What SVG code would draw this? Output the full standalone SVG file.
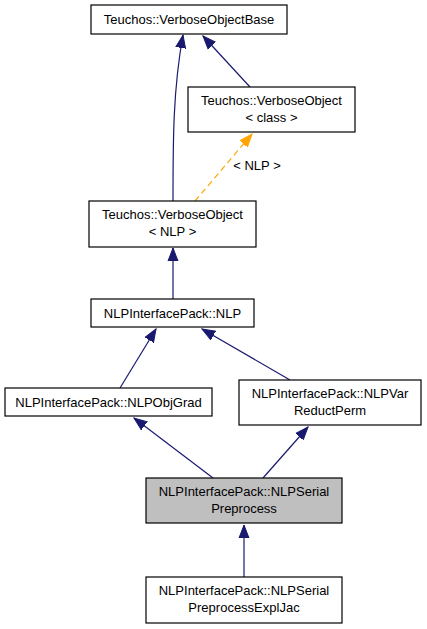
<svg xmlns="http://www.w3.org/2000/svg" width="427" height="629" viewBox="0 0 427 629">
<style>
.n rect{fill:#fff;stroke:#000;stroke-width:1.2}
.n rect.hl{fill:#bfbfbf}
text{font-family:"Liberation Sans",Arial,sans-serif;font-size:13px;text-anchor:middle;fill:#000}
.e{fill:none;stroke:#191970;stroke-width:1.2}
.d{fill:none;stroke:#ffa500;stroke-width:1.2;stroke-dasharray:6,4}
</style>
<defs>
<marker id="a" markerWidth="14" markerHeight="12" refX="13" refY="6" orient="auto" markerUnits="userSpaceOnUse"><path d="M0,1 L13,6 L0,11 Z" fill="#191970" stroke="#191970"/></marker>
<marker id="o" markerWidth="14" markerHeight="12" refX="13" refY="6" orient="auto" markerUnits="userSpaceOnUse"><path d="M0,1 L13,6 L0,11 Z" fill="#ffa500" stroke="#ffa500"/></marker>
</defs>
<rect width="427" height="629" fill="#fff"/>
<g id="connectors">
<path class="e" d="M173,201 C173,140 173,90 183,35" marker-end="url(#a)"/>
<path class="e" d="M250,87 L203,36" marker-end="url(#a)"/>
<path class="d" d="M195,201 L252,134" marker-end="url(#o)"/>
<text x="257" y="170">&lt; NLP &gt;</text>
<path class="e" d="M173,299 L173,248" marker-end="url(#a)"/>
<path class="e" d="M120,388 L156,329" marker-end="url(#a)"/>
<path class="e" d="M290,380 L202,329" marker-end="url(#a)"/>
<path class="e" d="M213,478 L134,418" marker-end="url(#a)"/>
<path class="e" d="M263,478 L308,427" marker-end="url(#a)"/>
<path class="e" d="M244,577 L244,525" marker-end="url(#a)"/>
</g>
<g id="node-verboseobjectbase" class="n"><rect x="91" y="5" width="196" height="29"/><text x="189" y="24">Teuchos::VerboseObjectBase</text></g>
<g id="node-verboseobject-class" class="n"><rect x="188" y="87" width="167" height="45"/><text x="271.5" y="105">Teuchos::VerboseObject</text><text x="271.5" y="122">&lt; class &gt;</text></g>
<g id="node-verboseobject-nlp" class="n"><rect x="89" y="201" width="167" height="46"/><text x="172.5" y="219">Teuchos::VerboseObject</text><text x="172.5" y="236">&lt; NLP &gt;</text></g>
<g id="node-nlp" class="n"><rect x="91" y="299" width="163" height="28"/><text x="172.5" y="318">NLPInterfacePack::NLP</text></g>
<g id="node-nlpobjgrad" class="n"><rect x="5" y="388" width="207" height="28"/><text x="108.5" y="407">NLPInterfacePack::NLPObjGrad</text></g>
<g id="node-nlpvarreductperm" class="n"><rect x="239" y="380" width="182" height="45"/><text x="330" y="398">NLPInterfacePack::NLPVar</text><text x="330" y="415">ReductPerm</text></g>
<g id="node-nlpserialpreprocess" class="n"><rect class="hl" x="146" y="478" width="196" height="45"/><text x="244" y="496">NLPInterfacePack::NLPSerial</text><text x="244" y="513">Preprocess</text></g>
<g id="node-nlpserialpreprocessexpljac" class="n"><rect x="146" y="577" width="196" height="46"/><text x="244" y="595">NLPInterfacePack::NLPSerial</text><text x="244" y="612">PreprocessExplJac</text></g>
</svg>
